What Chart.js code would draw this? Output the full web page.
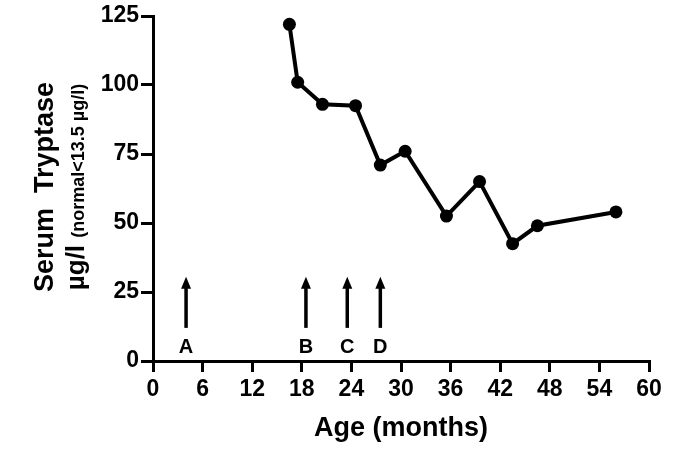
<!DOCTYPE html>
<html>
<head>
<meta charset="utf-8">
<script src="https://cdn.jsdelivr.net/npm/chart.js@4/dist/chart.umd.min.js"></script>
<style>
	html, body { margin: 0; padding: 0; background: #fff; }
	#wrap { width: 674px; height: 465px; }
</style>
</head>
<body>
<div id="wrap"><canvas id="chart" width="674" height="465"></canvas></div>
<script>
// Age in months and serum tryptase (µg/l)
const ageMonths = [16.5, 17.5, 20.5, 24.5, 27.5, 30.5, 35.5, 39.5, 43.5, 46.5, 56];
const tryptase = [122, 101, 93, 92.5, 71, 76, 52.5, 65, 42.5, 49, 54];

// Event arrows along the bottom
const arrowLabels = ['A', 'B', 'C', 'D'];
const arrowMonths = [4, 18.5, 23.5, 27.5];
const arrowBase = 12;
const arrowTip = 30.5;
const arrowLabelValue = 5;

const xTicks = [0, 6, 12, 18, 24, 30, 36, 42, 48, 54, 60];
const yTicks = [0, 25, 50, 75, 100, 125];

const FONT = '"Liberation Sans", Arial, sans-serif';

const arrowsPlugin = {
	id: 'arrows',
	afterDatasetsDraw(chart) {
		const { ctx, scales: { x, y } } = chart;
		ctx.save();
		ctx.fillStyle = '#000';
		ctx.strokeStyle = '#000';
		ctx.lineWidth = 3.5;
		arrowMonths.forEach((m, i) => {
			const px = x.getPixelForValue(m);
			const yb = y.getPixelForValue(arrowBase);
			const yt = y.getPixelForValue(arrowTip);
			ctx.beginPath();
			ctx.moveTo(px, yb);
			ctx.lineTo(px, yt + 8);
			ctx.stroke();
			ctx.beginPath();
			ctx.moveTo(px, yt);
			ctx.lineTo(px - 5, yt + 12);
			ctx.lineTo(px + 5, yt + 12);
			ctx.closePath();
			ctx.fill();
			ctx.font = 'bold 20px ' + FONT;
			ctx.textAlign = 'center';
			ctx.textBaseline = 'middle';
			ctx.fillText(arrowLabels[i], px, y.getPixelForValue(arrowLabelValue));
		});
		ctx.restore();
	}
};

const yTitlePlugin = {
	id: 'yTitle',
	afterDraw(chart) {
		const { ctx } = chart;
		const cy = 187;
		ctx.save();
		ctx.fillStyle = '#000';
		ctx.textBaseline = 'alphabetic';

		// first line
		ctx.save();
		ctx.translate(53, cy);
		ctx.rotate(-Math.PI / 2);
		ctx.font = 'bold 27px ' + FONT;
		ctx.textAlign = 'center';
		ctx.fillText('Serum  Tryptase', 0, 0);
		ctx.restore();

		// second line: unit + normal range in small type
		ctx.save();
		ctx.translate(84, cy);
		ctx.rotate(-Math.PI / 2);
		const big = 'µg/l ';
		const small = '(normal<13.5 µg/l)';
		ctx.font = 'bold 26px ' + FONT;
		const wBig = ctx.measureText(big).width;
		ctx.font = 'bold 18px ' + FONT;
		const wSmall = ctx.measureText(small).width;
		let start = -(wBig + wSmall) / 2;
		ctx.textAlign = 'left';
		ctx.font = 'bold 26px ' + FONT;
		ctx.fillText(big, start, 0);
		ctx.font = 'bold 18px ' + FONT;
		ctx.fillText(small, start + wBig, 0);
		ctx.restore();

		ctx.restore();
	}
};

new Chart(document.getElementById('chart'), {
	type: 'scatter',
	data: {
		datasets: [{
			label: 'Serum tryptase',
			data: ageMonths.map((m, i) => ({ x: m, y: tryptase[i] })),
			showLine: true,
			borderColor: '#000',
			backgroundColor: '#000',
			borderWidth: 4,
			pointRadius: 6.5,
			pointHoverRadius: 6.5,
			pointBackgroundColor: '#000',
			pointBorderWidth: 0,
			clip: false
		}]
	},
	options: {
		responsive: false,
		animation: false,
		layout: { padding: { top: 16, right: 25, bottom: 0, left: 0 } },
		plugins: {
			legend: { display: false },
			tooltip: { enabled: false }
		},
		scales: {
			x: {
				type: 'linear',
				min: 0,
				max: 60,
				afterBuildTicks: s => { s.ticks = xTicks.map(v => ({ value: v })); },
				afterFit: s => { s.height = 104; },
				border: { color: '#000', width: 3 },
				grid: { drawOnChartArea: false, color: '#000', lineWidth: 3, tickLength: 11 },
				ticks: {
					color: '#000',
					font: { family: FONT, size: 23, weight: 'bold' },
					padding: 4,
					maxRotation: 0
				},
				title: {
					display: true,
					text: 'Age (months)',
					color: '#000',
					font: { family: FONT, size: 27, weight: 'bold' },
					padding: { top: 0, bottom: 20 }
				}
			},
			y: {
				min: 0,
				max: 125,
				afterBuildTicks: s => { s.ticks = yTicks.map(v => ({ value: v })); },
				afterFit: s => { s.width = 153; },
				border: { color: '#000', width: 3 },
				grid: { drawOnChartArea: false, color: '#000', lineWidth: 3, tickLength: 12 },
				ticks: {
					color: '#000',
					font: { family: FONT, size: 23, weight: 'bold' },
					padding: 2
				}
			}
		}
	},
	plugins: [arrowsPlugin, yTitlePlugin]
});
</script>
</body>
</html>
